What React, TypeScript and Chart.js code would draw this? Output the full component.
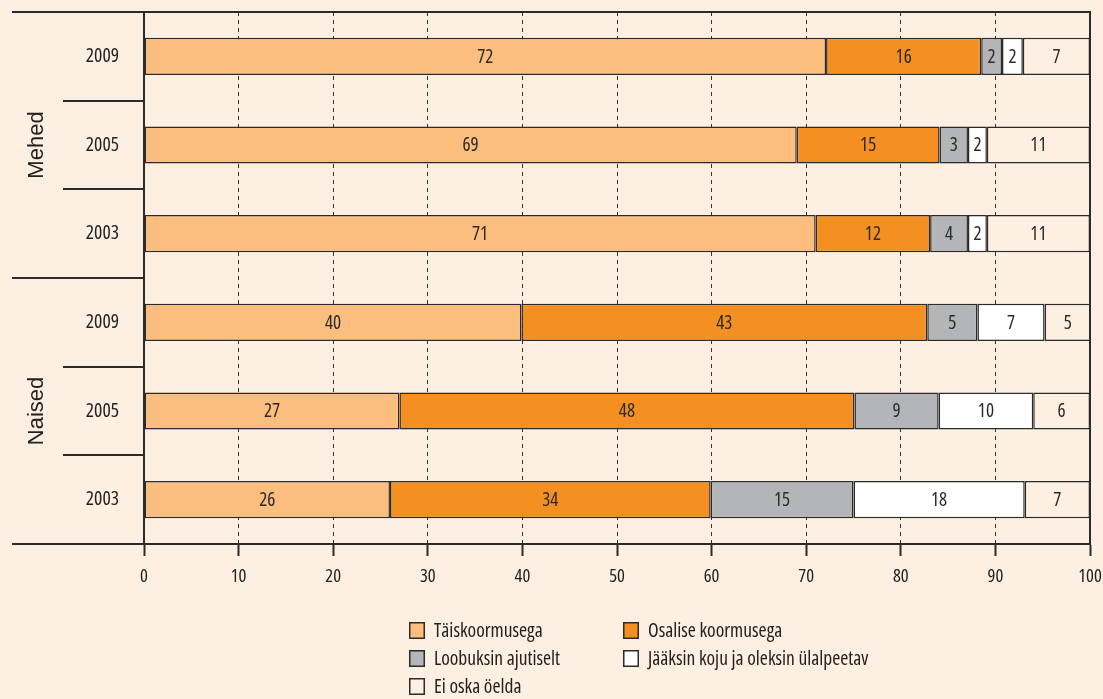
import React, { useEffect, useRef } from "react";
import { Chart, registerables } from "chart.js";

Chart.register(...registerables);

// ---- data ----
const categories = ["2009", "2005", "2003", "2009", "2005", "2003"];
const groups = ["Mehed", "Naised"];
const groupSizes = [3, 3];
const seriesNames = [
  "Täiskoormusega",
  "Osalise koormusega",
  "Loobuksin ajutiselt",
  "Jääksin koju ja oleksin ülalpeetav",
  "Ei oska öelda",
];
const taiskoormusega = [72.1, 69.0, 71.0, 39.9, 27.0, 26.0];
const osaliseKoormusega = [16.4, 15.1, 12.1, 42.9, 48.1, 33.9];
const loobuksinAjutiselt = [2.2, 3.0, 4.0, 5.3, 8.9, 15.1];
const jaaksinKoju = [2.2, 2.0, 2.0, 7.1, 10.0, 18.1];
const eiOskaOelda = [7.1, 10.9, 10.9, 4.9, 6.0, 6.9];
const xMin = 0;
const xMax = 100;
const xStep = 10;

const seriesValues = [taiskoormusega, osaliseKoormusega, loobuksinAjutiselt, jaaksinKoju, eiOskaOelda];
const seriesColors = ["#fcbe7e", "#f39021", "#b3b5b8", "#ffffff", "#fdf0e2"];

const BG = "#fdefe1";
const INK = "#2b2b2b";
const NARROW = '"Open Sans", "Liberation Sans", Arial, sans-serif';
const WIDE = '"Liberation Sans", Arial, sans-serif';

const decorPlugin = {
  id: "decor",
  afterDatasetsDraw(chart: any) {
    const ctx = chart.ctx;
    ctx.save();
    ctx.font = `condensed 19px ${NARROW}`;
    ctx.fillStyle = "#2a2a2a";
    ctx.textAlign = "center";
    ctx.textBaseline = "middle";
    chart.data.datasets.forEach((ds: any, di: number) => {
      const meta = chart.getDatasetMeta(di);
      meta.data.forEach((el: any, i: number) => {
        const v = ds.data[i];
        const p = el.getProps(["x", "y", "base"], true);
        ctx.fillText(String(Math.round(v)), (p.x + p.base) / 2, p.y + 1);
      });
    });
    ctx.restore();
  },
  afterDraw(chart: any) {
    const ctx = chart.ctx;
    const a = chart.chartArea;
    const y = chart.scales.y;
    ctx.save();
    ctx.strokeStyle = INK;
    ctx.lineWidth = 2;
    const line = (x1: number, y1: number, x2: number, y2: number) => {
      ctx.beginPath();
      ctx.moveTo(x1, y1);
      ctx.lineTo(x2, y2);
      ctx.stroke();
    };
    const outerX = 12;
    const innerX = 63;
    line(outerX, a.top, a.right + 1, a.top);
    line(a.right, a.top, a.right, a.bottom);
    line(outerX, a.bottom, a.left, a.bottom);
    const mid = (i: number) => Math.round((y.getPixelForValue(i) + y.getPixelForValue(i + 1)) / 2);

    let idx = 0;
    groups.forEach((g, gi) => {
      const start = idx;
      const end = idx + groupSizes[gi] - 1;
      const yTop = start === 0 ? a.top : mid(start - 1);
      const yBot = end === categories.length - 1 ? a.bottom : mid(end);
      for (let i = start; i < end; i++) {
        const yy = mid(i);
        line(innerX, yy, a.left, yy);
      }
      if (end < categories.length - 1) {
        line(outerX, yBot, a.left, yBot);
      }
      ctx.save();
      ctx.translate(37, (yTop + yBot) / 2);
      ctx.rotate(-Math.PI / 2);
      ctx.font = `22px ${WIDE}`;
      ctx.fillStyle = "#222";
      ctx.textAlign = "center";
      ctx.textBaseline = "middle";
      ctx.fillText(g, 0, 0);
      ctx.restore();
      idx = end + 1;
    });

    // legend
    const colX = [409, 623];
    const rowY = [622, 650, 678];
    ctx.font = `condensed 19.5px ${NARROW}`;
    ctx.textAlign = "left";
    ctx.textBaseline = "middle";
    chart.data.datasets.forEach((ds: any, i: number) => {
      const bx = colX[i % 2];
      const by = rowY[Math.floor(i / 2)];
      ctx.fillStyle = ds.backgroundColor;
      ctx.fillRect(bx, by, 16, 17);
      ctx.lineWidth = 1.5;
      ctx.strokeStyle = INK;
      ctx.strokeRect(bx + 0.75, by + 0.75, 14.5, 15.5);
      ctx.fillStyle = "#222";
      ctx.fillText(ds.label, bx + 25, by + 9);
    });
    ctx.restore();
  },
};

export default function App() {
  const canvasRef = useRef<HTMLCanvasElement | null>(null);

  useEffect(() => {
    const canvas = canvasRef.current;
    if (!canvas) return;
    const chart = new Chart(canvas, {
      type: "bar",
      data: {
        labels: categories,
        datasets: seriesNames.map((name, i) => ({
          label: name,
          data: seriesValues[i],
          backgroundColor: seriesColors[i],
          borderColor: INK,
          borderWidth: 1.5,
          borderSkipped: false,
          barPercentage: 0.42,
          categoryPercentage: 1,
        })),
      },
      options: {
        indexAxis: "y",
        responsive: false,
        animation: false,
        devicePixelRatio: 1,
        layout: { padding: { left: 0, right: 13, top: 12, bottom: 105 } },
        plugins: {
          legend: { display: false },
          tooltip: { enabled: false },
          title: { display: false },
        },
        scales: {
          x: {
            stacked: true,
            min: xMin,
            max: xMax,
            position: "bottom",
            ticks: {
              stepSize: xStep,
              color: "#222",
              font: { family: NARROW, size: 18.5, weight: "condensed" },
              padding: 10,
            },
            grid: {
              color: (c: any) =>
                c.tick && (c.tick.value === xMin || c.tick.value === xMax) ? "rgba(0,0,0,0)" : "#333",
              lineWidth: 1,
              drawTicks: true,
              tickLength: 12,
              tickWidth: 2,
              tickColor: INK,
            },
            border: { display: true, color: INK, width: 2, dash: [4, 4] },
            afterFit: (s: any) => {
              s.height = 50;
              s.paddingLeft = 0;
              s.paddingRight = 0;
            },
          },
          y: {
            stacked: true,
            ticks: {
              color: "#222",
              font: { family: NARROW, size: 19.5, weight: "condensed" },
              padding: 25,
            },
            grid: { display: false, drawTicks: false },
            border: { display: true, color: INK, width: 2 },
            afterFit: (s: any) => {
              s.width = 144;
              s.paddingTop = 0;
              s.paddingBottom = 0;
            },
          },
        },
      },
      plugins: [decorPlugin],
    } as any);
    return () => chart.destroy();
  }, []);

  return (
    <div
      style={{
        position: "fixed",
        left: 0,
        top: 0,
        width: 1103,
        height: 699,
        background: BG,
        overflow: "hidden",
      }}
    >
      <canvas ref={canvasRef} width={1103} height={699} style={{ display: "block", width: 1103, height: 699 }} />
    </div>
  );
}
